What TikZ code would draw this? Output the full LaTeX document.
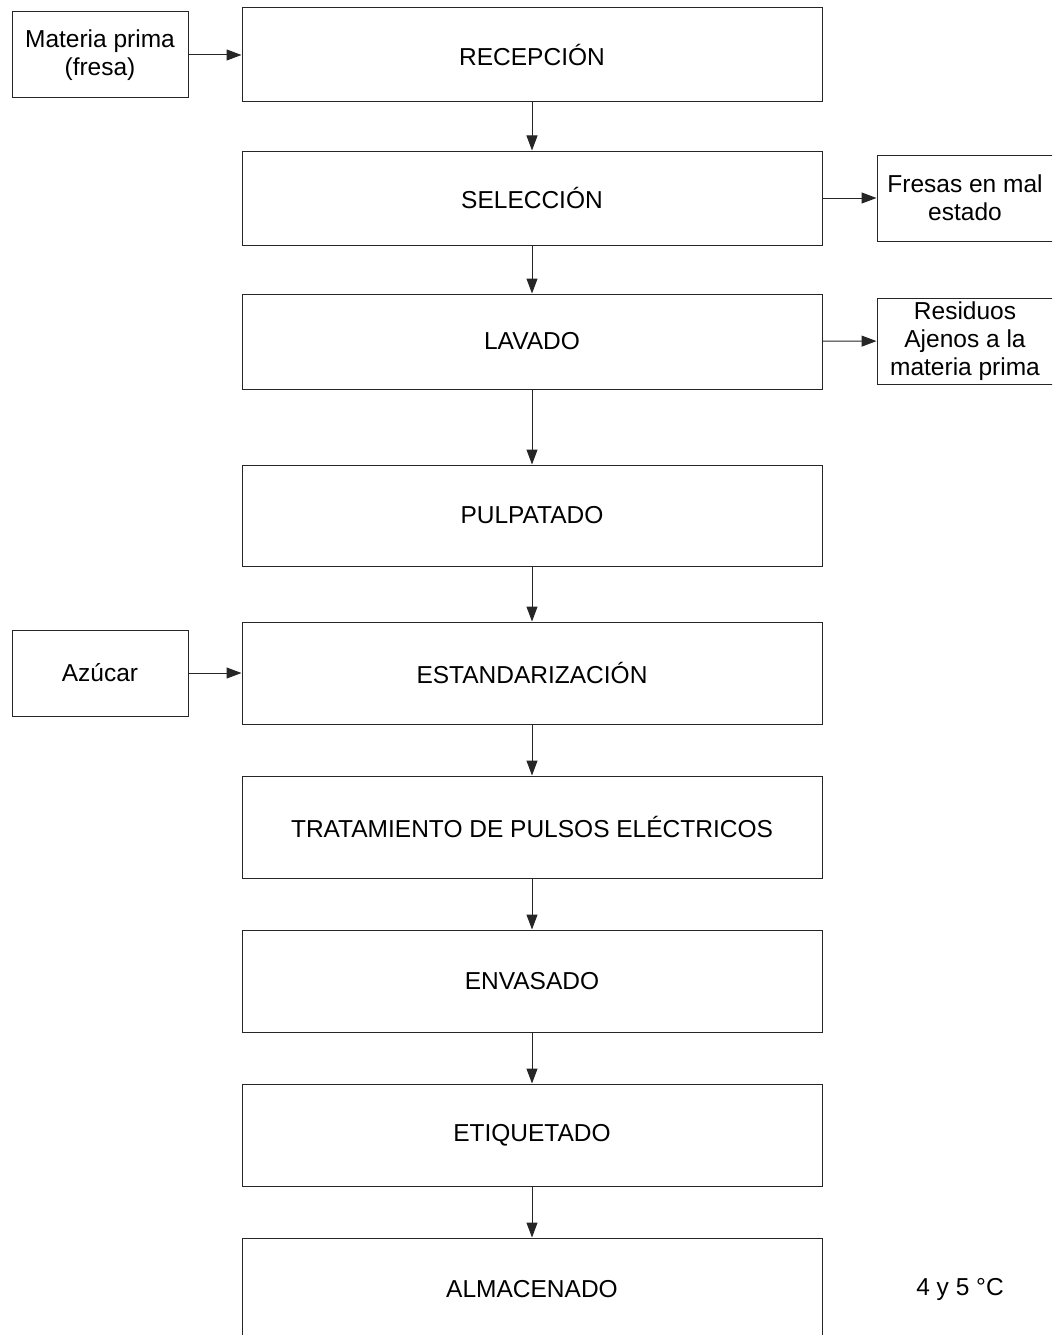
\documentclass[tikz,border=0pt]{standalone}
\usepackage{fontspec}
\setmainfont{Liberation Sans}
\usetikzlibrary{arrows.meta}
\begin{document}
\begin{tikzpicture}[x=1pt,y=-1pt,
  box/.style={draw=black!85, line width=1pt, inner sep=0pt, align=center,
    font=\fontsize{24.5}{28}\selectfont},
  mainbox/.style={box, minimum width=580pt},
  sidebox/.style={box, minimum width=176pt, minimum height=86pt},
  flow/.style={draw=black!85, line width=1pt, -{Triangle[length=15pt,width=11pt]}}]
\useasboundingbox (0,0) rectangle (1052,1335);
\clip (0,0) rectangle (1052,1335);
% main process column
\node[mainbox, minimum height=94pt]  (rec) at (532,55)    {RECEPCIÓN};
\node[mainbox, minimum height=94pt]  (sel) at (532,198)   {SELECCIÓN};
\node[mainbox, minimum height=95pt]  (lav) at (532,341.5) {LAVADO};
\node[mainbox, minimum height=101pt] (pul) at (532,515.5) {PULPATADO};
\node[mainbox, minimum height=102pt] (est) at (532,673)   {ESTANDARIZACIÓN};
\node[mainbox, minimum height=102pt] (tra) at (532,827)   {TRATAMIENTO DE PULSOS ELÉCTRICOS};
\node[mainbox, minimum height=102pt] (env) at (532,981)   {ENVASADO};
\node[mainbox, minimum height=102pt] (eti) at (532,1135)  {ETIQUETADO};
\node[mainbox, minimum height=102pt] (alm) at (532,1289)  {ALMACENADO};
% inputs and outputs
\node[sidebox] (mat) at (100,55)  {Materia prima\\(fresa)};
\node[sidebox] (azu) at (100,673) {Azúcar};
\node[sidebox] (fre) at (965,198) {Fresas en mal\\estado};
\node[sidebox] (res) at (965,341) {Residuos\\Ajenos a la\\materia prima};
\node[font=\fontsize{24.5}{28}\selectfont] (temp) at (960,1289) {4 y 5 °C};
% connectors
\draw[flow] (rec) -- (sel);
\draw[flow] (sel) -- (lav);
\draw[flow] (lav) -- (pul);
\draw[flow] (pul) -- (est);
\draw[flow] (est) -- (tra);
\draw[flow] (tra) -- (env);
\draw[flow] (env) -- (eti);
\draw[flow] (eti) -- (alm);
\draw[flow] (mat) -- (rec);
\draw[flow] (azu) -- (est);
\draw[flow] (sel) -- (fre);
\draw[flow] (lav) -- (res);
\end{tikzpicture}
\end{document}
